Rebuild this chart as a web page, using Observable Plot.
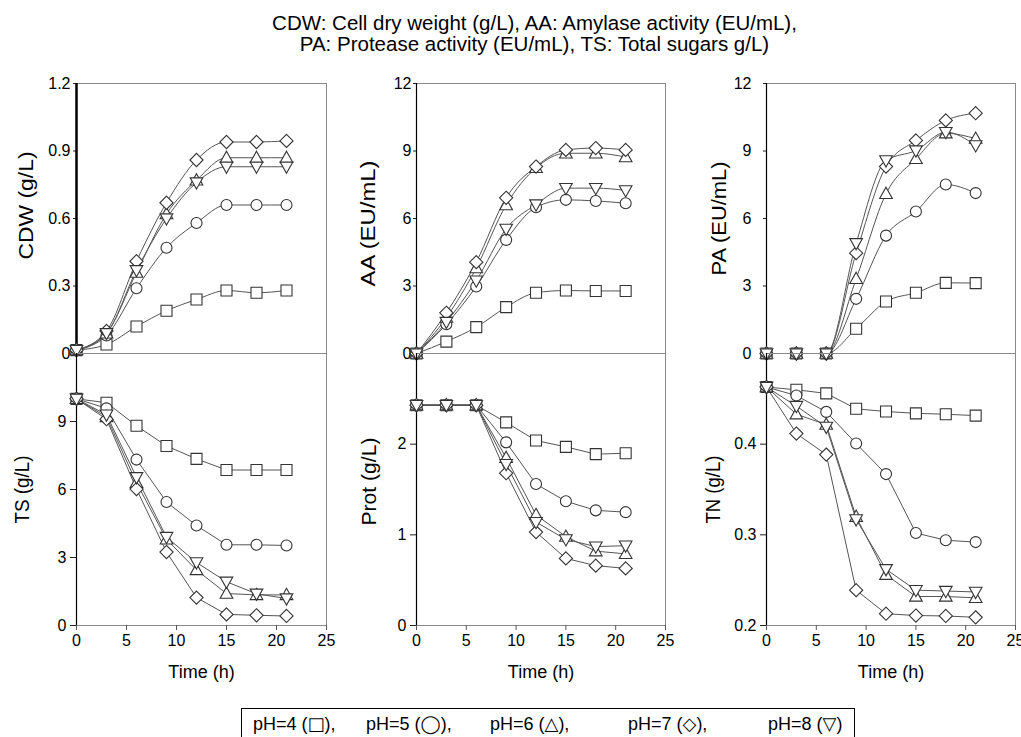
<!DOCTYPE html>
<html>
<head>
<meta charset="utf-8">
<script src="https://cdn.jsdelivr.net/npm/d3@7"></script>
<script src="https://cdn.jsdelivr.net/npm/@observablehq/plot@0.6"></script>
<style>
  html, body { margin: 0; padding: 0; background: #fff; }
  #wrap { position: relative; width: 1021px; height: 737px; overflow: hidden; font-family: "Liberation Sans", Arial, Helvetica, sans-serif; color: #000; }
  #title { position: absolute; left: 24px; top: 12px; width: 1021px; text-align: center; font-size: 20.5px; line-height: 21px; }
  .panel { position: absolute; }
  .panel svg { overflow: visible; }
  #legend { position: absolute; left: 241px; top: 708px; width: 612px; height: 40px; border: 1px solid #000; font-size: 18px; }
  #legend span { position: absolute; top: 4px; white-space: pre; }
  #legend .g { font-family: "DejaVu Sans", sans-serif; font-size: 18px; }
</style>
</head>
<body>
<div id="wrap">
  <div id="title">CDW: Cell dry weight (g/L), AA: Amylase activity (EU/mL),<br>PA: Protease activity (EU/mL), TS: Total sugars g/L)</div>
  <div id="legend"></div>
</div>
<script>
// ---- data ----
const times = [0, 3, 6, 9, 12, 15, 18, 21];
const phLabels = ["pH=4", "pH=5", "pH=6", "pH=7", "pH=8"];
const legendGlyphs = ["□", "◯", "△", "◇", "▽"];
const xTicks = [0, 5, 10, 15, 20, 25];

// each list: [pH4, pH5, pH6, pH7, pH8]
const CDW = [
  [0.015, 0.04, 0.12, 0.19, 0.24, 0.28, 0.27, 0.28],
  [0.015, 0.08, 0.29, 0.47, 0.58, 0.66, 0.66, 0.66],
  [0.015, 0.09, 0.36, 0.62, 0.77, 0.87, 0.87, 0.87],
  [0.015, 0.10, 0.41, 0.67, 0.86, 0.94, 0.94, 0.945],
  [0.015, 0.09, 0.37, 0.60, 0.76, 0.83, 0.83, 0.83]
];
const AA = [
  [0, 0.53, 1.17, 2.06, 2.70, 2.80, 2.78, 2.78],
  [0, 1.30, 2.98, 5.05, 6.50, 6.83, 6.78, 6.68],
  [0, 1.60, 3.80, 6.60, 8.25, 8.90, 8.90, 8.73],
  [0, 1.81, 4.06, 6.92, 8.31, 9.05, 9.13, 9.05],
  [0, 1.40, 3.24, 5.54, 6.62, 7.35, 7.35, 7.25]
];
const PA = [
  [0, 0, 0, 1.10, 2.31, 2.70, 3.14, 3.13],
  [0, 0, 0, 2.43, 5.24, 6.31, 7.51, 7.13],
  [0, 0, 0, 3.32, 7.10, 8.65, 9.79, 9.55],
  [0, 0, 0, 4.46, 8.31, 9.47, 10.36, 10.68],
  [0, 0, 0, 4.90, 8.58, 9.02, 9.84, 9.25]
];
const TS = [
  [10, 9.83, 8.81, 7.92, 7.35, 6.86, 6.86, 6.86],
  [10, 9.58, 7.32, 5.45, 4.41, 3.56, 3.56, 3.53],
  [10, 9.20, 6.30, 3.80, 2.45, 1.41, 1.35, 1.35],
  [10, 9.10, 6.02, 3.24, 1.23, 0.49, 0.45, 0.42],
  [10, 9.30, 6.54, 3.90, 2.78, 1.93, 1.40, 1.19]
];
const PROT = [
  [2.43, 2.43, 2.43, 2.24, 2.04, 1.97, 1.89, 1.90],
  [2.43, 2.43, 2.43, 2.02, 1.56, 1.37, 1.27, 1.25],
  [2.43, 2.43, 2.43, 1.85, 1.22, 0.98, 0.82, 0.79],
  [2.43, 2.43, 2.43, 1.68, 1.03, 0.74, 0.66, 0.63],
  [2.43, 2.43, 2.43, 1.78, 1.14, 0.95, 0.87, 0.88]
];
const TN = [
  [0.463, 0.460, 0.456, 0.439, 0.436, 0.434, 0.433, 0.4315],
  [0.463, 0.4536, 0.4356, 0.4007, 0.367, 0.302, 0.294, 0.292],
  [0.463, 0.433, 0.4216, 0.320, 0.256, 0.232, 0.232, 0.2305],
  [0.463, 0.4117, 0.3885, 0.239, 0.213, 0.211, 0.2105, 0.209],
  [0.463, 0.442, 0.419, 0.317, 0.262, 0.239, 0.238, 0.237]
];

// ---- symbols (open markers) ----
const half = (s) => Math.sqrt(s / Math.PI);
const symSquare = { draw(c, s) { const h = half(s); c.moveTo(-h, -h); c.lineTo(h, -h); c.lineTo(h, h); c.lineTo(-h, h); c.closePath(); } };
const symCircle = { draw(c, s) { const h = half(s); c.moveTo(h, 0); c.arc(0, 0, h, 0, 2 * Math.PI); } };
const symTriUp = { draw(c, s) { const h = half(s); c.moveTo(0, -1.2 * h); c.lineTo(1.15 * h, 0.85 * h); c.lineTo(-1.15 * h, 0.85 * h); c.closePath(); } };
const symDiamond = { draw(c, s) { const h = half(s) * 1.2; c.moveTo(0, -h); c.lineTo(h, 0); c.lineTo(0, h); c.lineTo(-h, 0); c.closePath(); } };
const symTriDown = { draw(c, s) { const h = half(s); c.moveTo(0, 1.2 * h); c.lineTo(1.15 * h, -0.85 * h); c.lineTo(-1.15 * h, -0.85 * h); c.closePath(); } };
const phSymbols = [symSquare, symCircle, symTriUp, symDiamond, symTriDown];

const FONT = '"Liberation Sans", Arial, Helvetica, sans-serif';

function rowsOf(series) {
  return series.flatMap((vals, i) => vals.map((v, j) => ({ t: times[j], v, ph: phLabels[i] })));
}

function panel(o) {
  const rows = rowsOf(o.series);
  const marks = [
    Plot.frame({ stroke: "#8a8a8a", strokeWidth: 1 }),
    Plot.axisY({ ticks: o.yTicks, tickSize: o.tickSize, tickPadding: o.tickPadding, stroke: "#222", label: null, fontSize: 16, tickFormat: (d) => String(d) }),
    Plot.text([o.label], { text: (d) => d, frameAnchor: "left", textAnchor: "middle", rotate: -90, dx: o.ldx, dy: o.ldy, fontSize: 20 }),
    Plot.ruleX([0], { stroke: "#000", strokeWidth: o.thick ? 2.5 : 1.2 }),
    Plot.line(rows, { x: "t", y: "v", z: "ph", stroke: "#555", strokeWidth: 1, curve: o.curve })
  ];
  if (o.bottom) {
    marks.push(Plot.axisX({ ticks: xTicks, tickSize: 5, tickPadding: 4, stroke: "#555", label: null, fontSize: 16, tickFormat: (d) => String(d) }));
    marks.push(Plot.text(["Time (h)"], { text: (d) => d, frameAnchor: "bottom", dy: 52, fontSize: 18 }));
  }
  phLabels.forEach((p, i) => {
    marks.push(Plot.dot(rows.filter((d) => d.ph === p), { x: "t", y: "v", r: 5.5, symbol: phSymbols[i], fill: "white", stroke: "#333", strokeWidth: 1.1 }));
  });
  const chart = Plot.plot({
    width: o.width, height: o.mt + o.plotH + o.mb,
    marginLeft: o.ml, marginRight: o.mr, marginTop: o.mt, marginBottom: o.mb,
    x: { domain: [0, 25], axis: null },
    y: { domain: o.yDomain, axis: null },
    style: { background: "transparent", fontFamily: FONT, fontSize: "16px", color: "#000", overflow: "visible" },
    marks
  });
  // stretch the axis title to the length it has in the figure
  chart.querySelectorAll("text").forEach((t) => {
    if (t.textContent === o.label) {
      t.setAttribute("textLength", o.llen);
      t.setAttribute("lengthAdjust", "spacingAndGlyphs");
    }
  });
  const div = document.createElement("div");
  div.className = "panel";
  div.style.left = o.left + "px";
  div.style.top = o.top + "px";
  div.appendChild(chart);
  document.getElementById("wrap").appendChild(div);
}

const cols = [
  { left: 0, width: 340, ml: 76, mr: 14 },
  { left: 340, width: 340, ml: 76, mr: 15 },
  { left: 680, width: 341, ml: 86, mr: 6 }
];
const topRow = { top: 60, mt: 23, mb: 10, plotH: 270, bottom: false, curve: "monotone-x", tickSize: 3 };
const botRow = { top: 343, mt: 10, mb: 60, plotH: 272, bottom: true, curve: "linear", tickSize: 6, tickPadding: 4 };

panel({ series: CDW, yDomain: [0, 1.2], yTicks: [0, 0.3, 0.6, 0.9, 1.2], label: "CDW (g/L)", ...cols[0], ...topRow, tickPadding: 3, ldx: -50, ldy: -13, llen: 108, thick: true });
panel({ series: AA, yDomain: [0, 12], yTicks: [0, 3, 6, 9, 12], label: "AA (EU/mL)", ...cols[1], ...topRow, tickPadding: 2, ldx: -48, ldy: 5, llen: 126 });
panel({ series: PA, yDomain: [0, 12], yTicks: [0, 3, 6, 9, 12], label: "PA (EU/mL)", ...cols[2], ...topRow, tickPadding: 12, ldx: -47, ldy: 0, llen: 114 });
panel({ series: TS, yDomain: [0, 12], yTicks: [0, 3, 6, 9], label: "TS (g/L)", ...cols[0], ...botRow, ldx: -54, ldy: 0, llen: 68 });
panel({ series: PROT, yDomain: [0, 3], yTicks: [0, 1, 2], label: "Prot (g/L)", ...cols[1], ...botRow, ldx: -47, ldy: -8, llen: 88 });
panel({ series: TN, yDomain: [0.2, 0.5], yTicks: [0.2, 0.3, 0.4], label: "TN (g/L)", ...cols[2], ...botRow, ldx: -53, ldy: 0, llen: 68 });

// ---- legend ----
const legendX = [11, 124, 248, 386, 526];
const legend = document.getElementById("legend");
phLabels.forEach((p, i) => {
  const s = document.createElement("span");
  s.style.left = legendX[i] + "px";
  s.innerHTML = p + " (<span class='g' style='position:static'>" + legendGlyphs[i] + "</span>)" + (i < phLabels.length - 1 ? "," : "");
  legend.appendChild(s);
});
</script>
</body>
</html>
